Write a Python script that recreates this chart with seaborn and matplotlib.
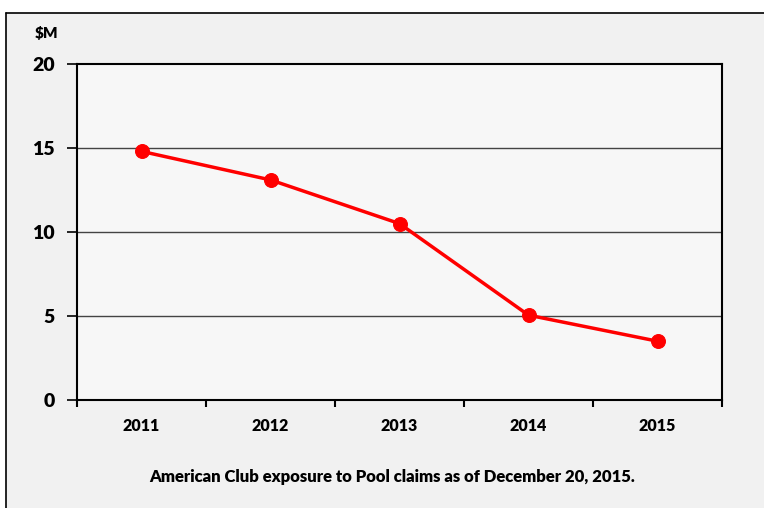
import matplotlib
matplotlib.use("Agg")
import matplotlib.pyplot as plt
import seaborn as sns
import pandas as pd
from matplotlib.lines import Line2D
from matplotlib.patches import Rectangle

years = ["2011", "2012", "2013", "2014", "2015"]
exposure = [14.8, 13.1, 10.5, 5.05, 3.5]
yticks = [0, 5, 10, 15, 20]
caption = "American Club exposure to Pool claims as of December 20, 2015."
ylabel = "$M"

sns.set_theme(style="white")
plt.rcParams['font.family'] = ['Lato', 'DejaVu Sans']
plt.rcParams['text.color'] = 'black'
plt.rcParams['xtick.color'] = 'black'
plt.rcParams['ytick.color'] = 'black'

df = pd.DataFrame({"pos": range(len(years)), "year": years, "value": exposure})

fig = plt.figure(figsize=(7.64, 5.08), dpi=100, facecolor="#f1f1f1")
fig.patches.append(Rectangle((0, (508-13)/508), 1.0, 13/508, transform=fig.transFigure,
                             facecolor="white", edgecolor="none", zorder=-5))
fig.patches.append(Rectangle((0, 0), 6/764, 1.0, transform=fig.transFigure,
                             facecolor="white", edgecolor="none", zorder=-5))
fig.lines.append(Line2D([6/764, 6/764], [0, (508-13)/508], transform=fig.transFigure, color="black", lw=1.2))
fig.lines.append(Line2D([6/764, 1], [(508-13)/508, (508-13)/508], transform=fig.transFigure, color="black", lw=1.2))

ax = fig.add_axes([77/764, 108/508, 645/764, 336/508])
ax.set_zorder(2)
ax.set_facecolor("#f7f7f7")

sns.lineplot(data=df, x="pos", y="value", ax=ax, color="#ff0000", linewidth=2.5,
             marker="o", markersize=10, markeredgecolor="#ff0000")

ax.set_xlim(-0.5, len(years) - 0.5)
ax.set_ylim(0, 20)
ax.set_yticks(yticks)
ax.set_yticklabels([str(t) for t in yticks], fontsize=14, fontweight="heavy", color="black")
ax.set_xticks([i - 0.5 for i in range(len(years) + 1)])
ax.set_xticklabels([""] * (len(years) + 1))
ax.set_xticks(range(len(years)), minor=True)
ax.set_xticklabels(years, minor=True, fontsize=11.5, fontweight="heavy", color="black")
ax.tick_params(axis="x", which="minor", length=0, pad=13)
ax.tick_params(axis="x", which="major", length=5, width=1.5, color="black", direction="out")
ax.tick_params(axis="y", length=7, width=1.2, color="black", direction="out", pad=9)
ax.tick_params(bottom=True, left=True)

for y in yticks[1:-1]:
    ax.axhline(y, color="#444444", lw=1, zorder=0)

for s in ax.spines.values():
    s.set_color("black")
    s.set_linewidth(1.5)

ax.set_xlabel("")
ax.set_ylabel("")

fig.text(35/764, 1 - 33/508, ylabel, fontsize=11, fontweight="heavy", va="center", ha="left", color="black")
fig.text(392/764, 1 - 477/508, caption, fontsize=12, fontweight="heavy", va="center", ha="center", color="black")

fig.savefig("out.png", dpi=100, facecolor=fig.get_facecolor())
